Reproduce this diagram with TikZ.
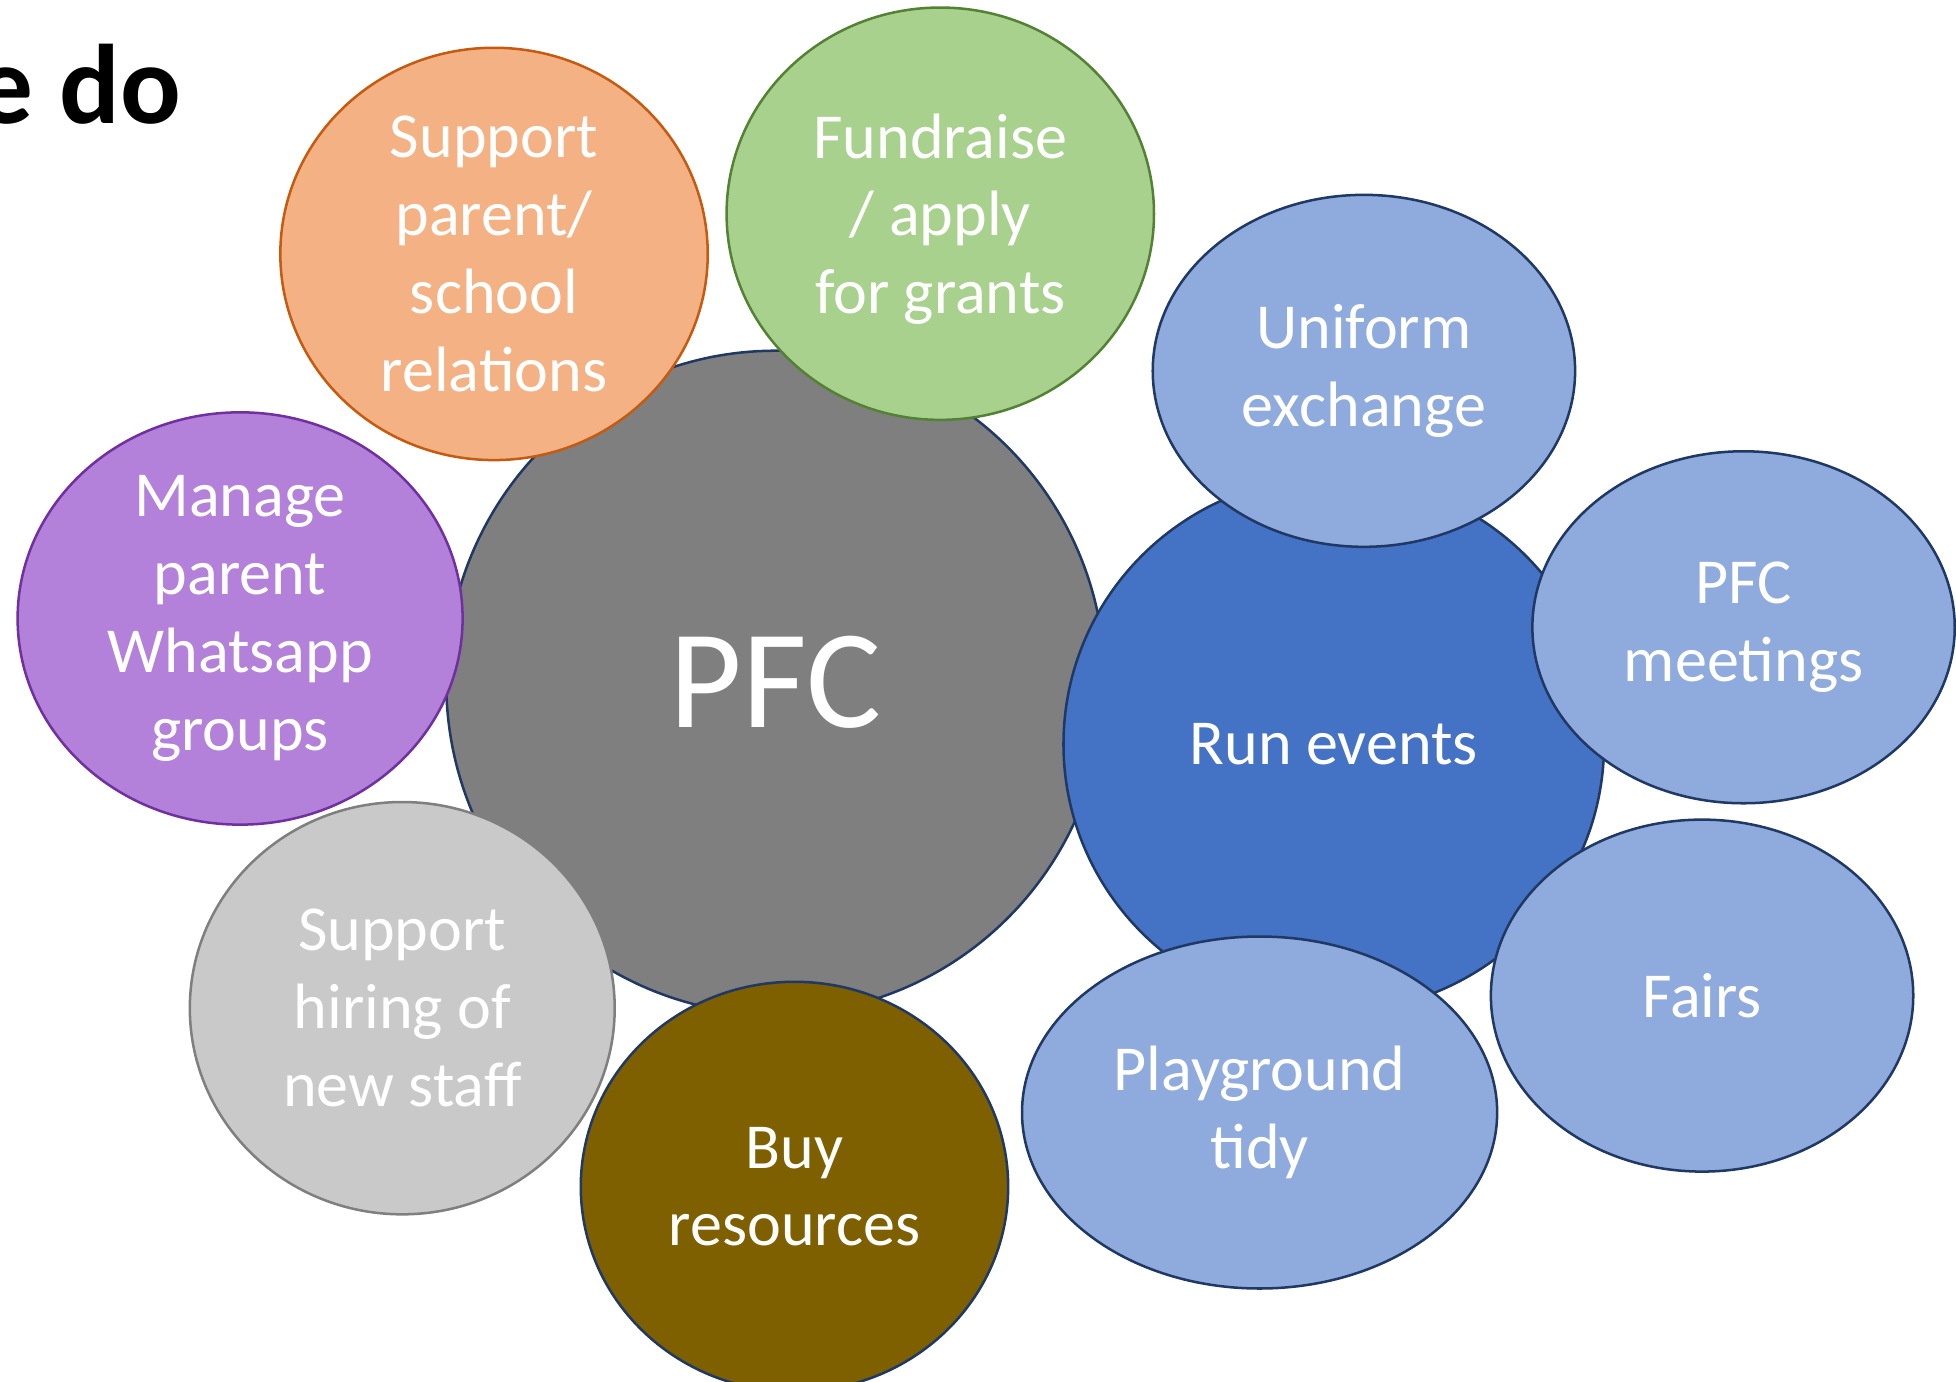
\documentclass[tikz,border=0pt]{standalone}
\usepackage{fontspec}
\setmainfont{Carlito}
\usetikzlibrary{shapes}
\definecolor{navyline}{HTML}{203864}
\definecolor{pfcgray}{HTML}{7F7F7F}
\definecolor{orangefill}{HTML}{F4B183}
\definecolor{orangeline}{HTML}{C55A11}
\definecolor{greenfill}{HTML}{A9D18E}
\definecolor{greenline}{HTML}{548235}
\definecolor{purplefill}{HTML}{B381D9}
\definecolor{purpleline}{HTML}{7030A0}
\definecolor{lightgray}{HTML}{C9C9C9}
\definecolor{lightgrayline}{HTML}{7F7F7F}
\definecolor{brownfill}{HTML}{7F6000}
\definecolor{eventblue}{HTML}{4472C4}
\definecolor{paleblue}{HTML}{8FAADC}

\begin{document}
\begin{tikzpicture}[x=1pt, y=-1pt]
      \tikzstyle{every node}=[font=\fontsize{51}{62}\selectfont, text=white, align=center]
      \tikzstyle{bubble}=[ellipse, draw=navyline, line width=2pt, inner sep=0pt]
      %%
\useasboundingbox (0,0) rectangle (1556,1099);
\clip (0,0) rectangle (1556,1099);
\node (title) at (-22,98) [anchor=base west, text=black, font=\fontsize{90}{100}\selectfont\bfseries] {e do};
  \node (b_pfc) at (617,543) [bubble, fill=pfcgray, minimum width=524pt, minimum height=528pt, font=\fontsize{112}{130}\selectfont] {PFC};
  \node (b_events) at (1061,592) [bubble, fill=eventblue, minimum width=430pt, minimum height=426pt] {Run events};
  \node (b_relations) at (393,202) [bubble, draw=orangeline, fill=orangefill, minimum width=340pt, minimum height=328pt] {Support\\parent/\\school\\relations};
  \node (b_grants) at (748,170) [bubble, draw=greenline, fill=greenfill, minimum width=340pt, minimum height=328pt, text depth=0pt] {Fundraise\\/ apply\\for grants};
  \node (b_whatsapp) at (191,492) [bubble, draw=purpleline, fill=purplefill, minimum width=354pt, minimum height=328pt] {Manage\\parent\\Whatsapp\\groups};
  \node (b_hiring) at (320,802) [bubble, draw=lightgrayline, fill=lightgray, minimum width=338pt, minimum height=328pt] {Support\\hiring of\\new staff};
  \node (b_resources) at (632,944) [bubble, fill=brownfill, minimum width=340pt, minimum height=326pt] {Buy\\resources};
  \node (b_uniform) at (1085,295) [bubble, fill=paleblue, minimum width=336pt, minimum height=280pt] {Uniform\\exchange};
  \node (b_meetings) at (1387,499) [bubble, fill=paleblue, minimum width=336pt, minimum height=280pt] {PFC\\meetings};
  \node (b_fairs) at (1354,792) [bubble, fill=paleblue, minimum width=336pt, minimum height=280pt] {Fairs};
  \node (b_tidy) at (1002,885) [bubble, fill=paleblue, minimum width=378pt, minimum height=280pt] {Playground\\tidy};
%

    \end{tikzpicture}
\end{document}
